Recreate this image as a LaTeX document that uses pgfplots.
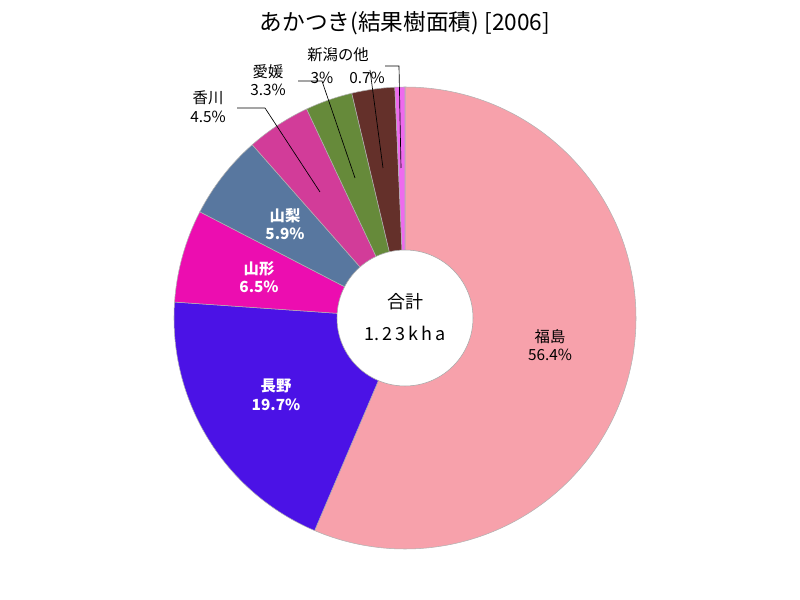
\documentclass[border=0pt]{standalone}
\usepackage{pgfplots}
\pgfplotsset{compat=1.18}
\usepackage{pgfplotstable}
\usepackage{fontspec}
\setmainfont{Noto Sans CJK JP}
\definecolor{c1}{HTML}{F7A1AB}
\definecolor{c2}{HTML}{4B12E6}
\definecolor{c3}{HTML}{EC0DB0}
\definecolor{c4}{HTML}{58779F}
\definecolor{c5}{HTML}{D23C99}
\definecolor{c6}{HTML}{668A3A}
\definecolor{c7}{HTML}{64302A}
\definecolor{c8}{HTML}{EE6AEE}
\pgfplotstableread{
val col
56.4 c1
19.7 c2
6.5 c3
5.9 c4
4.5 c5
3.3 c6
3.0 c7
0.7 c8
}\data
\begin{document}
\begin{tikzpicture}
\begin{axis}[hide axis, scale only axis, width=600pt, height=450pt,
  xmin=0, xmax=800, ymin=0, ymax=600, clip=false]
\path (axis cs:0,0) rectangle (axis cs:800,600);
\def\cum{0}
\pgfplotsforeachungrouped \i in {0,...,7}{
  \pgfplotstablegetelem{\i}{val}\of\data \let\v\pgfplotsretval
  \pgfplotstablegetelem{\i}{col}\of\data \let\c\pgfplotsretval
  \pgfmathsetmacro\s{90-\cum*3.6}
  \pgfmathsetmacro\e{90-(\cum+\v)*3.6}
  \pgfmathsetmacro\cum{\cum+\v}
  \edef\temp{\noexpand\filldraw[fill=\c, draw=gray!60, line width=0.4pt] (axis cs:405,282) -- ++(\s:173.25pt) arc[start angle=\s, end angle=\e, radius=173.25pt] -- cycle;}
  \temp
}
\filldraw[fill=white, draw=gray!70, line width=0.4pt] (axis cs:405,282) circle[radius=51pt];
% centre text
\node[font=\fontsize{13.5}{15}\selectfont] at (axis cs:405,298) {合計};
\node[font=\fontsize{13.5}{15}\selectfont] at (axis cs:405,267) {1.\,2\,3\,k\,h\,a};
% title
\node[font=\fontsize{17}{20}\selectfont] at (axis cs:405,577) {あかつき(結果樹面積) [2006]};
% inside labels
\node[font=\fontsize{11.5}{13}\selectfont, align=center] at (axis cs:550,255) {福島\\[1pt]56.4\%};
\node[font=\bfseries\fontsize{11.5}{13}\selectfont, text=white, align=center] at (axis cs:276,205) {長野\\[1pt]19.7\%};
\node[font=\bfseries\fontsize{11.5}{13}\selectfont, text=white, align=center] at (axis cs:259,323) {山形\\[1pt]6.5\%};
\node[font=\bfseries\fontsize{11.5}{13}\selectfont, text=white, align=center] at (axis cs:285,376) {山梨\\[1pt]5.9\%};
% outside labels + leaders
\draw[line width=0.5pt] (axis cs:237,492) -- (axis cs:265,492) -- (axis cs:320,408);
\node[font=\fontsize{11.5}{13}\selectfont, align=center] at (axis cs:208,493) {香川\\[1pt]4.5\%};
\draw[line width=0.5pt] (axis cs:298,519) -- (axis cs:322,519) -- (axis cs:355,422);
\node[font=\fontsize{11.5}{13}\selectfont, align=center] at (axis cs:268,520) {愛媛\\[1pt]3.3\%};
\draw[line width=0.5pt] (axis cs:370,530) -- (axis cs:383,432);
\draw[line width=0.5pt] (axis cs:385,534) -- (axis cs:399,534) -- (axis cs:401,432);
\node[font=\fontsize{11.5}{13}\selectfont] at (axis cs:338,545) {新潟の他};
\node[font=\fontsize{11.5}{13}\selectfont] at (axis cs:322,522) {3\%};
\node[font=\fontsize{11.5}{13}\selectfont] at (axis cs:367,522) {0.7\%};
\end{axis}
\end{tikzpicture}
\end{document}
